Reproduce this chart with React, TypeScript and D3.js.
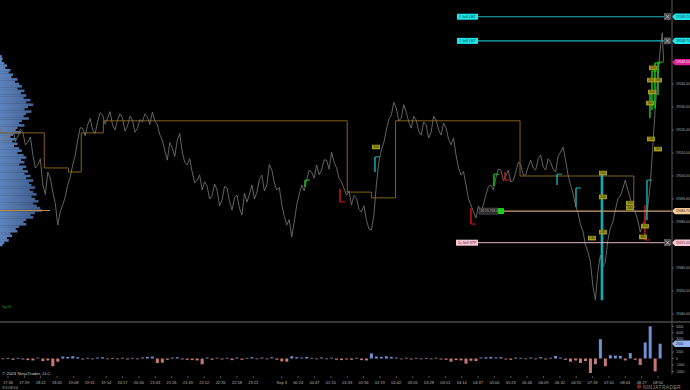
import React from "react";
import * as d3 from "d3";

// ---------- DATA ----------
// price closes sampled every 7 minutes, starting 14 minutes before 17:36 (minute 0)
const startMinute = -14;
const stepMinute = 7;
const closes = [
  19515.6, 19519.1, 19516.5, 19520.0, 19517.4, 19518.7, 19514.8, 19509.1, 19504.8, 19496.1,
  19501.7, 19493.0, 19478.7, 19487.4, 19496.1, 19504.8, 19515.6, 19520.8, 19522.2, 19520.0,
  19523.5, 19526.5, 19525.2, 19522.2, 19524.3, 19525.2, 19521.7, 19524.3, 19520.8, 19523.5,
  19525.6, 19527.8, 19522.2, 19515.6, 19506.9, 19512.2, 19515.6, 19510.4, 19504.8, 19501.7,
  19498.2, 19493.9, 19495.6, 19491.7, 19493.9, 19489.5, 19494.8, 19485.2, 19491.7, 19483.0,
  19488.7, 19496.1, 19493.0, 19500.4, 19496.1, 19502.6, 19493.9, 19487.4, 19478.7, 19473.5,
  19487.4, 19496.1, 19498.2, 19501.7, 19504.8, 19502.6, 19506.9, 19510.4, 19503.5, 19497.4,
  19491.7, 19487.4, 19490.4, 19484.3, 19480.8, 19476.5, 19496.1, 19511.3, 19520.0, 19526.5,
  19529.5, 19525.2, 19527.8, 19520.8, 19524.3, 19517.8, 19522.2, 19519.1, 19524.3, 19517.8,
  19520.8, 19513.5, 19509.1, 19500.4, 19496.1, 19487.4, 19481.7, 19484.3, 19491.7, 19496.1,
  19499.1, 19502.6, 19500.0, 19497.4, 19501.7, 19504.8, 19500.4, 19506.9, 19502.6, 19509.1,
  19502.6, 19506.1, 19501.7, 19510.4, 19506.9, 19496.1, 19487.4, 19478.7, 19470.0, 19462.6,
  19446.1, 19465.6, 19462.6, 19477.4, 19485.2, 19491.3, 19498.2, 19490.4, 19484.3, 19475.6,
  19480.8, 19496.1, 19528.7, 19554.8,
];
// intermediate prints, 3.5 minutes after each close
const midCloses = [
  19521.0, 19514.5, 19521.5, 19515.0, 19520.5, 19513.5, 19517.0, 19503.5, 19507.5, 19492.0,
  19499.0, 19488.0, 19484.5, 19491.0, 19499.5, 19509.0, 19521.0, 19517.5, 19525.0, 19518.5,
  19527.5, 19522.5, 19528.0, 19520.0, 19527.0, 19519.5, 19526.0, 19519.0, 19524.5, 19527.0,
  19522.5, 19524.0, 19518.0, 19511.0, 19514.5, 19508.5, 19518.5, 19506.0, 19507.5, 19497.0,
  19500.5, 19497.5, 19490.0, 19496.5, 19487.0, 19495.5, 19489.0, 19490.5, 19486.0, 19492.5,
  19492.0, 19490.0, 19498.5, 19493.5, 19505.0, 19497.0, 19495.0, 19482.5, 19481.0, 19480.0,
  19492.0, 19493.5, 19502.5, 19499.0, 19500.5, 19507.0, 19503.0, 19506.0, 19499.0, 19494.5,
  19493.5, 19491.5, 19485.5, 19487.0, 19477.0, 19483.0, 19506.0, 19514.5, 19524.5, 19532.0,
  19524.0, 19531.0, 19523.5, 19526.0, 19519.5, 19523.5, 19516.5, 19526.0, 19520.0, 19523.0,
  19516.0, 19516.5, 19503.5, 19502.0, 19490.0, 19484.5, 19487.0, 19487.5, 19495.5, 19494.0,
  19503.0, 19498.0, 19502.5, 19498.0, 19506.0, 19500.5, 19504.0, 19503.5, 19507.5, 19504.0,
  19507.5, 19503.0, 19508.5, 19512.5, 19500.5, 19492.5, 19484.0, 19476.0, 19467.0, 19452.0,
  19458.5, 19460.5, 19472.0, 19480.0, 19490.0, 19494.5, 19494.0, 19486.0, 19481.0, 19479.0,
  19486.0, 19512.0, 19542.0,
];
const tailMinutes = [920, 922];
const tailCloses = [19562.25, 19549.5];

// bar delta (volume panel), same 7-minute grid
const deltas = [
  150, -120, 80, -200, 100, -150, -250, -300, 120, -400,
  -300, -1200, -500, 300, 250, 350, 200, -150, 100, -100,
  150, 200, -120, 80, -100, 120, -150, 100, -80, 150,
  250, 300, -700, -650, -200, 150, 200, -150, -200, -250,
  -300, -900, 150, -200, 120, -150, 100, -250, 150, -200,
  100, 200, -100, 150, -120, 180, -200, -450, -500, 350,
  200, 150, 250, 100, -120, 150, -100, 120, -200, -250,
  -150, -200, 100, -250, -300, 800, 300, 250, 350, 250,
  150, -100, 120, -150, 100, -120, 80, -100, 120, -150,
  -200, -500, -250, -300, -800, -350, -400, 150, 200, 250,
  150, 200, -150, -200, 150, 100, -120, 150, -100, 200,
  -150, 120, 400, 150, -200, -500, -300, -700, -400, -2250,
  -900, 3000, -1200, 500, 450, 400, -300, 850, -200, -1000,
  2500, 5000, -2000, 2300,
];

// volume profile, 1-point bins descending from the top price
const profileTopPrice = 19552;
const profileVolumes = [
  20, 30, 20, 50, 80, 60, 120, 100, 150, 130,
  200, 170, 220, 250, 200, 280, 240, 300, 270, 350,
  300, 380, 320, 280, 360, 300, 270, 330, 250, 220,
  280, 200, 180, 240, 150, 120, 180, 140, 200, 160,
  220, 250, 200, 270, 300, 240, 280, 220, 300, 260,
  320, 280, 350, 300, 380, 330, 360, 400, 340, 380,
  420, 360, 400, 440, 380, 420, 460, 480, 400, 350,
  380, 300, 270, 300, 220, 180, 200, 120, 140, 80,
  100, 50, 30,
];
const pocPrice = 19485;

// step line (session levels)
const stepStarts = [-12, 51, 85, 103, 134, 477, 511, 545, 720, 880];
const stepLevels = [19518.75, 19503.5, 19501.75, 19518.75, 19524.0, 19493.0, 19490.5, 19524.0, 19500.0, 19486.5];
const stepEnd = 882;

// time axis
const timeTickMinutes = [0, 23, 46, 69, 92, 115, 138, 161, 184, 207, 230, 253, 276, 299, 322, 345, 385, 408, 431, 454, 477, 500, 523, 546, 569, 592, 615, 638, 661, 684, 707, 730, 753, 776, 799, 822, 845, 868, 891, 914];
const timeTickLabels = ["17:36", "17:59", "18:22", "18:45", "19:08", "19:31", "19:54", "20:17", "20:40", "21:03", "21:26", "21:49", "22:12", "22:35", "22:58", "23:21", "Sep 3", "00:24", "00:47", "01:10", "01:33", "01:56", "02:19", "02:42", "03:05", "03:28", "03:51", "04:14", "04:37", "05:00", "05:23", "05:46", "06:09", "06:32", "06:55", "07:18", "07:41", "08:04", "08:27", "08:50"];
const priceTicks = [19440, 19450, 19460, 19470, 19480, 19490, 19500, 19510, 19520, 19530, 19540, 19550, 19560, 19570];
const volTicks = [-2000, -1000, 0, 1000, 2000, 3000, 4000, 5000];

// orders / position
const targetPrices = [19569.25, 19558.75];
const targetLabels = ["1  Sell LMT", "1  Sell LMT"];
const stopPrice = 19471.0;
const stopLabel = "1x  Sell STP";
const entryPrice = 19484.75;
const positionLabel = "20  15,758.00";
const lastPrice = 19549.5;

// signal bars
const sigMinutes = [417.6, 466.8, 516, 651, 683.3, 698.8, 772, 798.7, 835.2, 895.6, 898.5, 902.7, 905.5, 909.7, 914];
const sigTops = [19498.2, 19494.3, 19508.3, 19486.1, 19500.8, 19501.7, 19500.8, 19494.8, 19501.3, 19487.4, 19498.2, 19536.5, 19545.6, 19549.1, 19549.5];
const sigBottoms = [19495.2, 19488.7, 19501.7, 19479.1, 19495.6, 19498.2, 19496.1, 19486.5, 19446.0, 19472.2, 19480.8, 19525.2, 19528.7, 19529.5, 19535.2];
const sigKinds = ["buy", "sell", "cyan", "sell", "buy", "sell", "cyan", "cyan", "cyanWide", "sell", "cyan", "buy", "buy", "buy", "buy"];

// yellow notes
const noteMinutes = [517.4, 836.6, 836.6, 836.6, 821.1, 874.6, 874.6, 895.7, 892.9, 904.1, 914, 906.9, 904.1, 905.5, 902.7, 914];
const notePrices = [19512.6, 19501.3, 19490.9, 19475.6, 19473.0, 19488.2, 19486.1, 19478.2, 19473.5, 19516.1, 19511.7, 19547.0, 19541.7, 19536.5, 19531.7, 19541.7];
const noteTexts = ["300", "200", "240", "240", "240", "200", "240", "200", "380", "180", "160", "240", "200", "200", "160", "180"];

// ---------- CHART ----------
const W = 690;
const H = 390;
const AXIS_X = 672;
const SEP_Y = 322;
const FONT = "'Liberation Sans', Arial, sans-serif";
const LBL = 3.3;

function RightTag({ cy, fill, text, color }: { cy: number; fill: string; text: string; color: string }) {
  const h = 3.2;
  const pts = `${AXIS_X},${cy} ${AXIS_X + 3},${cy - h} ${W},${cy - h} ${W},${cy + h} ${AXIS_X + 3},${cy + h}`;
  return (
    <g>
      <polygon points={pts} fill={fill} />
      <text x={AXIS_X + 4} y={cy + 1.2} fontSize={LBL} fill={color} fontFamily={FONT}>{text}</text>
    </g>
  );
}

function XBox({ cx, cy }: { cx: number; cy: number }) {
  return (
    <g>
      <rect x={cx - 3} y={cy - 3} width={6} height={6} fill="#4a4a4a" stroke="#888" strokeWidth={0.5} />
      <path d={`M${cx - 2},${cy - 2}L${cx + 2},${cy + 2}M${cx + 2},${cy - 2}L${cx - 2},${cy + 2}`} stroke="#ddd" strokeWidth={0.7} />
    </g>
  );
}

export default function App() {
  const x = d3.scaleLinear().domain([0, 914]).range([8, 658]);
  const y = d3.scaleLinear().domain([19440, 19540]).range([314, 84]);
  const vy = d3.scaleLinear().domain([0, 5000]).range([358.5, 326.3]);
  const pw = d3.scaleLinear().domain([0, 480]).range([0, 42]);
  const fmt = d3.format(".2f");

  const pricePts: [number, number][] = [];
  closes.forEach((c, i) => {
    const m = startMinute + stepMinute * i;
    pricePts.push([m, c]);
    if (i < midCloses.length) pricePts.push([m + stepMinute / 2, midCloses[i]]);
  });
  tailMinutes.forEach((m, i) => pricePts.push([m, tailCloses[i]]));
  const priceLine = d3.line<[number, number]>().x((d) => x(d[0])).y((d) => y(d[1]))(pricePts) || "";

  const stepPts: [number, number][] = stepStarts.map((m, i) => [m, stepLevels[i]] as [number, number]);
  stepPts.push([stepEnd, stepLevels[stepLevels.length - 1]]);
  const stepLine = d3
    .line<[number, number]>()
    .x((d) => x(d[0]))
    .y((d) => y(d[1]))
    .curve(d3.curveStepAfter)(stepPts) || "";

  const tagYs = [y(lastPrice), y(entryPrice), y(stopPrice), ...targetPrices.map((p) => y(p))];
  const visiblePriceTicks = priceTicks.filter((p) => tagYs.every((ty) => Math.abs(ty - y(p)) > 7));
  const lastDelta = deltas[deltas.length - 1];
  const visibleVolTicks = volTicks.filter((v) => Math.abs(vy(v) - vy(lastDelta)) > 4);

  const sigColor: Record<string, string> = { buy: "#19d019", sell: "#e01414", cyan: "#17b3bd", cyanWide: "#17a9b3" };

  React.useEffect(() => {
    document.body.style.margin = "0";
    document.body.style.background = "#000";
  }, []);

  return (
    <svg width={W} height={H} style={{ display: "block", background: "#000" }} fontFamily={FONT}>
      <rect x={0} y={0} width={W} height={H} fill="#000" />
      <defs>
        <clipPath id="main">
          <rect x={0} y={0} width={AXIS_X} height={SEP_Y} />
        </clipPath>
        <linearGradient id="prof" x1="0" x2="42" y1="0" y2="0" gradientUnits="userSpaceOnUse">
          <stop offset="0" stopColor="#5e84bd" />
          <stop offset="1" stopColor="#3a5888" />
        </linearGradient>
      </defs>

      <g clipPath="url(#main)">
        {/* volume profile */}
        {profileVolumes.map((v, k) => {
          const p = profileTopPrice - k;
          const y0 = y(p + 0.5);
          const y1 = y(p - 0.5);
          return <rect key={k} x={0} y={y0 - 0.15} width={pw(v)} height={y1 - y0 + 0.3} fill="url(#prof)" />;
        })}
        <line x1={0} x2={50} y1={y(pocPrice)} y2={y(pocPrice)} stroke="#c08a3a" strokeWidth={1} />

        {/* step line */}
        <path d={stepLine} fill="none" stroke="#86601a" strokeWidth={1} />

        {/* price line */}
        <path d={priceLine} fill="none" stroke="#747474" strokeWidth={0.85} strokeLinejoin="round" />

        {/* signal bars */}
        {sigMinutes.map((m, i) => {
          const k = sigKinds[i];
          const cx = x(m);
          const yt = y(sigTops[i]);
          const yb = y(sigBottoms[i]);
          const capY = k === "sell" ? yb : yt;
          const w = k === "cyanWide" ? 2.6 : 1.4;
          return (
            <g key={i} stroke={sigColor[k]}>
              <line x1={cx} x2={cx} y1={yt} y2={yb} strokeWidth={w} />
              <line x1={cx} x2={cx + 5} y1={capY} y2={capY} strokeWidth={1} />
            </g>
          );
        })}

        {/* yellow notes */}
        {noteMinutes.map((m, i) => {
          const cx = x(m);
          const cy = y(notePrices[i]);
          return (
            <g key={i}>
              <rect x={cx - 4} y={cy - 2.3} width={8} height={4.6} fill="#a49f1c" />
              <text x={cx} y={cy + 1.2} fontSize={3.4} textAnchor="middle" fill="#1d1a00">{noteTexts[i]}</text>
            </g>
          );
        })}
      </g>

      {/* target orders */}
      {targetPrices.map((p, i) => {
        const cy = y(p);
        return (
          <g key={i}>
            <line x1={478} x2={664} y1={cy} y2={cy} stroke="#1bb4bc" strokeWidth={1.2} />
            <rect x={457} y={cy - 3} width={21} height={6} fill="#1ce6ee" />
            <text x={459} y={cy + 1.3} fontSize={3.5} fill="#063a40">{targetLabels[i]}</text>
            <XBox cx={667.5} cy={cy} />
            <RightTag cy={cy} fill="#1ce6ee" text={fmt(p)} color="#063a40" />
          </g>
        );
      })}

      {/* stop order */}
      <line x1={478} x2={664} y1={y(stopPrice)} y2={y(stopPrice)} stroke="#e2b6c2" strokeWidth={1} />
      <rect x={456} y={y(stopPrice) - 3} width={22} height={6} fill="#f9c7d4" />
      <text x={458} y={y(stopPrice) + 1.3} fontSize={3.5} fill="#4a2030">{stopLabel}</text>
      <XBox cx={667.5} cy={y(stopPrice)} />
      <RightTag cy={y(stopPrice)} fill="#f9c7d4" text={fmt(stopPrice)} color="#4a2030" />

      {/* position */}
      <line x1={504} x2={AXIS_X} y1={y(entryPrice)} y2={y(entryPrice)} stroke="#c9a274" strokeWidth={1.4} />
      <rect x={479} y={y(entryPrice) - 3} width={19} height={6} fill="#262626" stroke="#777" strokeWidth={0.5} />
      <text x={480.5} y={y(entryPrice) + 1.3} fontSize={3.3} fill="#bbb">{positionLabel}</text>
      <rect x={498} y={y(entryPrice) - 3} width={6} height={6} fill="#1fcf1f" />
      <RightTag cy={y(entryPrice)} fill="#f3ca9e" text={fmt(entryPrice)} color="#3a2a10" />

      {/* last price */}
      <RightTag cy={y(lastPrice)} fill="#dc1f8e" text={fmt(lastPrice)} color="#ffe0f0" />

      {/* price axis */}
      <line x1={AXIS_X} x2={AXIS_X} y1={0} y2={374} stroke="#5a5a5a" strokeWidth={1} />
      {visiblePriceTicks.map((p) => (
        <g key={p}>
          <line x1={AXIS_X} x2={AXIS_X + 2} y1={y(p)} y2={y(p)} stroke="#888" strokeWidth={0.6} />
          <text x={AXIS_X + 4} y={y(p) + 1.2} fontSize={LBL} fill="#b0b0b0">{fmt(p)}</text>
        </g>
      ))}

      {/* panel separator */}
      <line x1={0} x2={W} y1={SEP_Y} y2={SEP_Y} stroke="#4a4a4a" strokeWidth={1.5} />

      {/* volume panel */}
      {deltas.map((v, i) => {
        const cx = x(startMinute + stepMinute * i);
        const y0 = vy(0);
        const y1 = vy(v);
        return (
          <rect
            key={i}
            x={cx - 1.5}
            y={Math.min(y0, y1)}
            width={3}
            height={Math.max(0.8, Math.abs(y1 - y0))}
            fill={v >= 0 ? "#6e8fd0" : "#c47a74"}
          />
        );
      })}
      {visibleVolTicks.map((v) => (
        <g key={v}>
          <line x1={AXIS_X} x2={AXIS_X + 2} y1={vy(v)} y2={vy(v)} stroke="#888" strokeWidth={0.6} />
          <text x={AXIS_X + 4} y={vy(v) + 1.2} fontSize={LBL} fill="#b0b0b0">{v}</text>
        </g>
      ))}
      <RightTag cy={vy(lastDelta)} fill="#93b3f2" text={String(lastDelta)} color="#102040" />

      {/* time axis */}
      {timeTickMinutes.map((m, i) => (
        <g key={m}>
          <line x1={x(m)} x2={x(m)} y1={376} y2={378} stroke="#888" strokeWidth={0.6} />
          <text x={x(m)} y={383.5} fontSize={4} textAnchor="middle" fill="#b8b8b8">{timeTickLabels[i]}</text>
        </g>
      ))}

      {/* misc text */}
      <text x={2} y={308} fontSize={4.2} fill="#1c9a1c">Sp H</text>
      <text x={2} y={375} fontSize={4.4} fill="#cfcfcf">© 2024 NinjaTrader, LLC</text>
      <text x={2} y={389} fontSize={3.8} fill="#aaa">9/3 08:54</text>
      <circle cx={639} cy={386.5} r={2.2} fill="#7a1e1e" />
      <text x={643} y={388.5} fontSize={5} fill="#8a8a8a" letterSpacing={0.3}>NINJATRADER</text>
    </svg>
  );
}
